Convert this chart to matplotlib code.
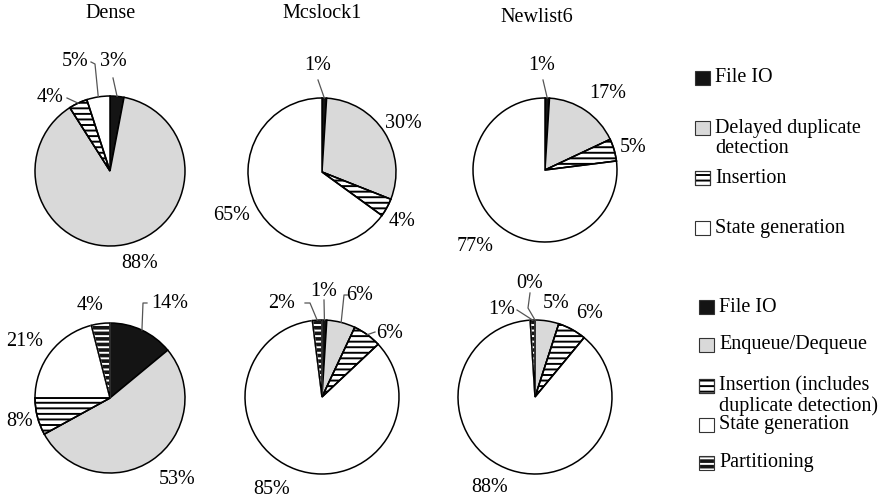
import math
import matplotlib
matplotlib.use("Agg")
import matplotlib.pyplot as plt
from matplotlib.patches import Rectangle, Wedge
from matplotlib.lines import Line2D

plt.rcParams["font.family"] = ["Liberation Serif", "DejaVu Serif"]
plt.rcParams["hatch.linewidth"] = 1.4

W, H = 884, 503
FS = 14.5
BLACK = "#141414"
GRAY = "#d9d9d9"

# ---- data -------------------------------------------------------------
benchmarks = ["Dense", "Mcslock1", "Newlist6"]

top_categories = ["File IO", "Delayed duplicate\ndetection", "Insertion",
                  "State generation"]
dense_top = [3, 88, 4, 5]
mcslock1_top = [1, 30, 4, 65]
newlist6_top = [1, 17, 5, 77]

bottom_categories = ["File IO", "Enqueue/Dequeue",
                     "Insertion (includes\nduplicate detection)",
                     "State generation", "Partitioning"]
dense_bottom = [14, 53, 8, 21, 4]
mcslock1_bottom = [1, 6, 6, 85, 2]
newlist6_bottom = [0, 5, 6, 88, 1]

# ---- styles -----------------------------------------------------------
# (facecolor, hatch, hatch colour)
top_styles = [(BLACK, None, None), (GRAY, None, None),
              ("white", "---", "black"), ("white", None, None)]
bottom_styles = [(BLACK, None, None), (GRAY, None, None),
                 ("white", "---", "black"), ("white", None, None),
                 (BLACK, "---", "white")]

fig = plt.figure(figsize=(W / 100, H / 100), dpi=100)


def fx(x):
    return x / W


def fy(y):
    return 1 - y / H


def draw_pie(values, styles, cx, cy, r, labels):
    pad = 1.03
    side = 2 * r * pad
    ax = fig.add_axes([fx(cx - side / 2), fy(cy + side / 2), side / W, side / H])
    wedges, _ = ax.pie(values, startangle=90, counterclock=False,
                       colors=[s[0] for s in styles],
                       wedgeprops=dict(edgecolor="black", linewidth=1.1))
    ax.set_xlim(-pad, pad)
    ax.set_ylim(-pad, pad)
    ax.set_aspect("equal")
    ax.axis("off")
    for w, (face, hatch, hcol) in zip(wedges, styles):
        if hatch:
            w.set_hatch(hatch)
            w.set_edgecolor(hcol)
            outline = Wedge(w.center, w.r, w.theta1, w.theta2,
                            facecolor="none", edgecolor="black", linewidth=1.1)
            ax.add_patch(outline)
    fig.canvas.draw()
    inv = fig.transFigure.inverted()
    for w, v, (tx, ty, leader) in zip(wedges, values, labels):
        fig.text(fx(tx), fy(ty), f"{v}%", ha="center", va="center", fontsize=FS)
        if leader:
            mid = math.radians((w.theta1 + w.theta2) / 2)
            ex, ey = inv.transform(ax.transData.transform((math.cos(mid), math.sin(mid))))
            xs = [ex] + [fx(p[0]) for p in leader]
            ys = [ey] + [fy(p[1]) for p in leader]
            fig.add_artist(Line2D(xs, ys, transform=fig.transFigure,
                                  color="#555555", linewidth=0.9))
    return ax


# label positions (px) and leader line points per wedge
dense_top_lbl = [(113, 62, [(113, 78)]), (140, 263, None),
                 (50, 98, [(67, 98)]), (75, 62, [(95, 64), (91, 62)])]
mcs_top_lbl = [(318, 65, [(318, 80)]), (403, 123, None),
               (402, 222, None), (232, 215, None)]
new_top_lbl = [(542, 65, [(543, 80)]), (608, 93, None),
               (633, 147, None), (475, 247, None)]

dense_bot_lbl = [(170, 303, [(143, 303), (147, 303)]), (177, 480, None),
                 (20, 422, None), (25, 342, None), (90, 305, None)]
mcs_bot_lbl = [(324, 292, [(324, 300)]), (360, 295, [(344, 295), (348, 295)]),
               (390, 333, [(375, 332)]), (272, 490, None),
               (282, 303, [(310, 303), (305, 303)])]
new_bot_lbl = [(530, 283, [(528, 308), (530, 293)]), (556, 303, None),
               (590, 313, None), (490, 488, None), (502, 310, [(517, 310)])]

draw_pie(dense_top, top_styles, 110, 171, 75, dense_top_lbl)
draw_pie(mcslock1_top, top_styles, 322, 172, 74, mcs_top_lbl)
draw_pie(newlist6_top, top_styles, 545, 170, 72, new_top_lbl)

draw_pie(dense_bottom, bottom_styles, 110, 398, 75, dense_bot_lbl)
draw_pie(mcslock1_bottom, bottom_styles, 322, 397, 77, mcs_bot_lbl)
draw_pie(newlist6_bottom, bottom_styles, 535, 397, 77, new_bot_lbl)

# titles
for name, (tx, ty) in zip(benchmarks, [(111, 14), (322, 14), (537, 18)]):
    fig.text(fx(tx), fy(ty), name, ha="center", va="center", fontsize=FS)


def legend(categories, styles, box_x, text_x, ys):
    for cat, (face, hatch, hcol), y in zip(categories, styles, ys):
        nlines = cat.count("\n") + 1
        bw, bh = 15, 14
        rect = Rectangle((fx(box_x), fy(y + bh / 2)), bw / W, bh / H,
                         transform=fig.transFigure, facecolor=face,
                         edgecolor=hcol if hatch else "#333333",
                         hatch=hatch, linewidth=0.8)
        fig.add_artist(rect)
        if hatch:
            fig.add_artist(Rectangle((fx(box_x), fy(y + bh / 2)), bw / W, bh / H,
                                     transform=fig.transFigure, facecolor="none",
                                     edgecolor="#333333", linewidth=0.8))
        line_h = 21
        fig.text(fx(text_x), fy(y + (nlines - 1) * line_h / 2), cat,
                 ha="left", va="center", fontsize=FS, linespacing=1.05)


legend(top_categories, top_styles, 695, 715, [78, 128, 178, 228])
legend(bottom_categories, bottom_styles, 699, 719, [307, 345, 386, 425, 463])

fig.savefig("out.png", dpi=100)
